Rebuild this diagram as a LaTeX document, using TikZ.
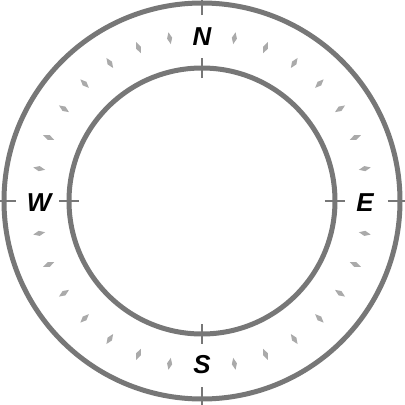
\documentclass[tikz,border=0pt]{standalone}
\usepackage{fontspec}
\setmainfont{Liberation Sans}
\definecolor{ringgray}{HTML}{777777}
\definecolor{diagray}{HTML}{AAAAAA}
\begin{document}
\begin{tikzpicture}[x=1bp,y=1bp,
  ring/.style={draw=ringgray,line width=5bp},
  tick/.style={draw=ringgray,line width=1.5bp},
  dia/.style={fill=diagray,draw=none},
  lbl/.style={font=\fontsize{26}{26}\selectfont\bfseries\itshape,text=black,inner sep=0pt,anchor=center}]
\useasboundingbox (-202,-204) rectangle (203,201);
\fill[white] (-202,-204) rectangle (203,201);
\coordinate (c) at (0,0);
% ticks
\foreach \a in {0,90,180,270}{
  \draw[tick] (\a:186) -- (\a:206);
  \draw[tick] (\a:123) -- (\a:143);
}
% circles
\node[ring,circle,minimum size=396bp,inner sep=0pt] (outer) at (c) {};
\node[ring,circle,minimum size=266bp,inner sep=0pt] (inner) at (c) {};
% diamonds
\foreach \k in {1,...,31}{
  \pgfmathtruncatemacro{\m}{mod(\k,8)}
  \ifnum\m=0\relax\else
    \fill[dia,rotate=\k*11.25] (166-6,0) -- (166,2.6) -- (166+6,0) -- (166,-2.6) -- cycle;
  \fi
}
% labels
\node[lbl] (N) at (0,164) {N};
\node[lbl] (E) at (163,-2) {E};
\node[lbl] (S) at (0,-164) {S};
\node[lbl] (W) at (-163,-2) {W};
\end{tikzpicture}
\end{document}
